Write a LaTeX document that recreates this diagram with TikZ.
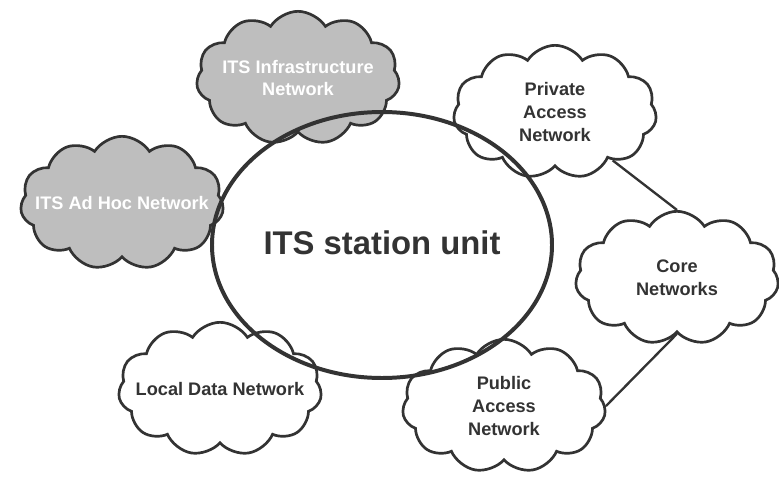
\documentclass[tikz,border=0pt]{standalone}
\usepackage{fontspec}
\setmainfont{Liberation Sans}
\usetikzlibrary{shapes.symbols}
\definecolor{lineGray}{HTML}{333333}
\definecolor{cloudGray}{HTML}{BEBEBE}
\begin{document}
\begin{tikzpicture}[x=0.03cm,y=-0.03cm,
    netbox/.style={cloud, cloud puffs=11, cloud puff arc=115, aspect=1.5,
        draw=lineGray, line width=2.3pt, fill=white,
        minimum width=6.1cm, minimum height=4cm, inner sep=0pt},
    nettext/.style={align=center, font=\bfseries\fontsize{15.5}{19.5}\selectfont},
    net/.style={netbox, label={[nettext, text=lineGray]center:#1}},
    itsnet/.style={netbox, fill=cloudGray, label={[nettext, text=white]center:#1}},
    link/.style={draw=lineGray, line width=2pt}]
    \useasboundingbox (0,0) rectangle (779,479);
    \node[itsnet={ITS Infrastructure\\Network}] (infra) at (298,78) {};
    \node[itsnet={ITS Ad Hoc Network}] (adhoc) at (122,203) {};
    \node[net={Private\\Access\\Network}] (private) at (555,112) {};
    \node[net={Core\\Networks}] (core) at (677,278) {};
    \node[net={Public\\Access\\Network}] (public) at (504,406) {};
    \node[net={Local Data Network}] (local) at (220,389) {};
    \draw[link] (private.-40) -- (core.north);
    \draw[link] (core.south) -- (public.east);
    \draw[draw=lineGray, line width=3.4pt] (382,245) ellipse [x radius=170, y radius=-133];
    \node[text=lineGray, font=\bfseries\fontsize{28}{34}\selectfont] (unit) at (382,243) {ITS station unit};
\end{tikzpicture}
\end{document}
